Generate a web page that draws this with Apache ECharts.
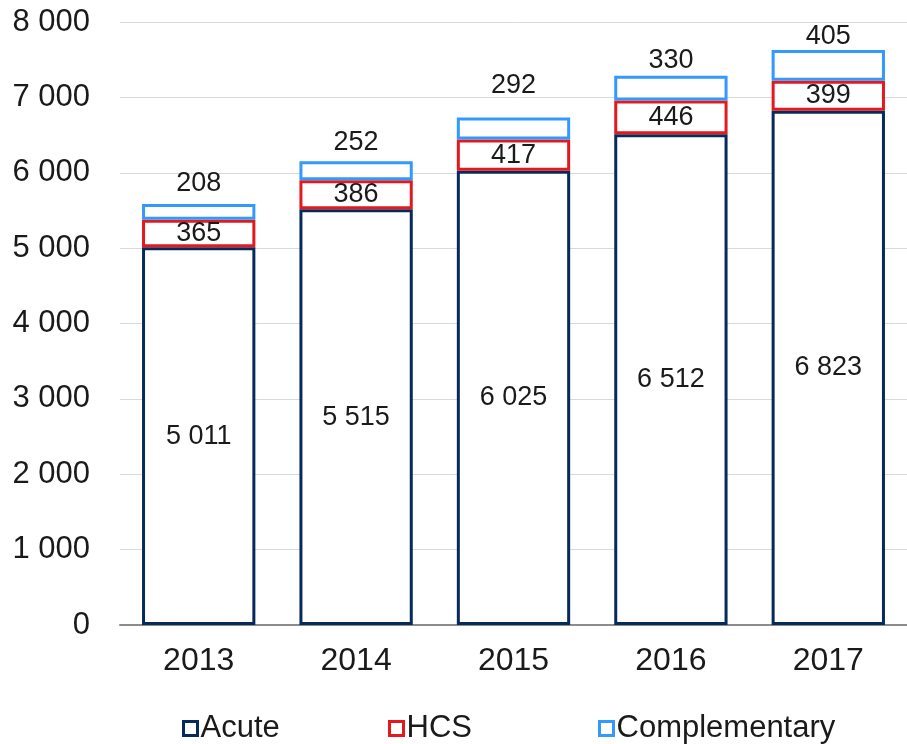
<!DOCTYPE html>
<html>
<head>
<meta charset="utf-8">
<script src="https://cdn.jsdelivr.net/npm/echarts@6/dist/echarts.min.js"></script>
<style>
  html, body { margin: 0; padding: 0; background: #fff; }
  #chart { width: 907px; height: 744px; }
</style>
</head>
<body>
<div id="chart"></div>
<script>
const years = ['2013', '2014', '2015', '2016', '2017']
const acute = [5011, 5515, 6025, 6512, 6823]
const hcs = [365, 386, 417, 446, 399]
const complementary = [208, 252, 292, 330, 405]

// the top labels sit at slightly different heights in the original
const topLabelGap = [7, 5, 18, 2, 0]

const FONT = '"Liberation Sans", Arial, sans-serif'
const fmt = v => String(v).replace(/\B(?=(\d{3})+(?!\d))/g, ' ')

const COLORS = { Acute: '#062B5B', HCS: '#E3191E', Complementary: '#3399FF' }

const chart = echarts.init(document.getElementById('chart'))

const mkSeries = (name, data, pos, gaps) => ({
  name,
  type: 'bar',
  stack: 'total',
  data: data.map((v, i) => ({
    value: v,
    label: gaps ? { distance: gaps[i] } : undefined
  })),
  barWidth: '72%',
  itemStyle: { color: '#FFFFFF', borderColor: COLORS[name], borderWidth: 3 },
  label: {
    show: true,
    position: pos,
    color: '#1a1a1a',
    fontSize: 27,
    fontFamily: FONT,
    formatter: p => fmt(p.value)
  }
})

const mkLegend = (name, left) => ({
  bottom: -5,
  left,
  itemWidth: 14,
  itemHeight: 14,
  icon: 'rect',
  itemStyle: { color: '#FFFFFF', borderColor: COLORS[name], borderWidth: 3 },
  textStyle: { fontSize: 31, fontFamily: FONT, color: '#1a1a1a', padding: [0, 0, 0, -2] },
  data: [name]
})

chart.setOption({
  animation: false,
  grid: { left: 120, width: 796, top: 22, bottom: 119 },
  legend: [
    mkLegend('Acute', 177),
    mkLegend('HCS', 383),
    mkLegend('Complementary', 593)
  ],
  xAxis: {
    type: 'category',
    data: years,
    axisTick: { show: false },
    axisLine: { lineStyle: { color: '#8c8c8c', width: 2 } },
    axisLabel: { fontSize: 32, fontFamily: FONT, color: '#1a1a1a', margin: 20 }
  },
  yAxis: {
    type: 'value',
    min: 0,
    max: 8000,
    interval: 1000,
    axisLine: { show: false },
    axisTick: { show: false },
    splitLine: { lineStyle: { color: '#d9d9d9', width: 1 } },
    axisLabel: { fontSize: 31, fontFamily: FONT, color: '#1a1a1a', margin: 30, formatter: fmt }
  },
  series: [
    mkSeries('Acute', acute, 'inside'),
    mkSeries('HCS', hcs, 'inside'),
    mkSeries('Complementary', complementary, 'top', topLabelGap)
  ]
})
</script>
</body>
</html>
